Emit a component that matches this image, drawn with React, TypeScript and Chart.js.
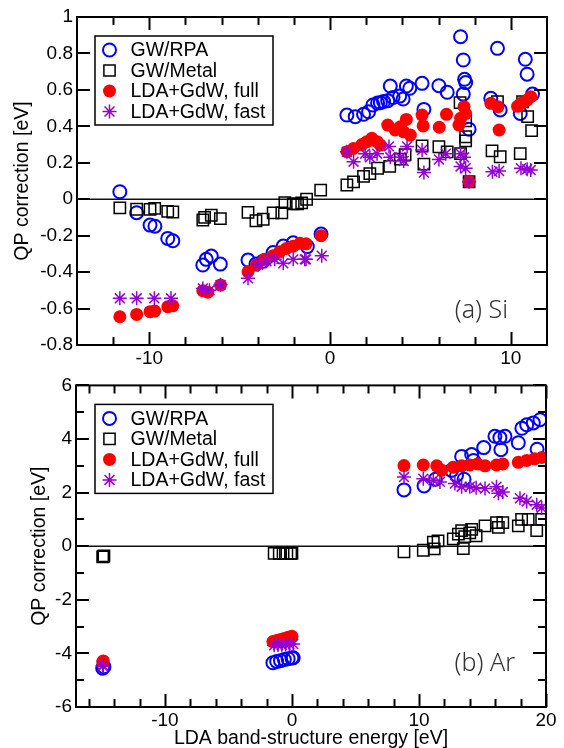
import React, { useEffect, useRef } from 'react';
import { Chart, registerables } from 'chart.js';

Chart.register(...registerables);

// ---------- text ----------
const SERIES = ['GW/RPA', 'GW/Metal', 'LDA+GdW, full', 'LDA+GdW, fast'];
const Y_TITLE = 'QP correction [eV]';
const X_TITLE = 'LDA band-structure energy [eV]';
const SI_LABEL = '(a) Si';
const AR_LABEL = '(b) Ar';

// ---------- (a) Si ----------
const SI_RPA_X = [-11.63, -10.7, -9.96, -9.69, -8.98, -8.7, -7.04, -6.85, -6.57, -6.07, -4.54, -4.1, -3.7, -3.15, -2.59, -2.04, -1.26, -0.5, 0.93, 1.39, 1.85, 2.13, 2.37, 2.63, 2.78, 2.96, 3.19, 3.33, 3.48, 3.85, 4.04, 4.22, 4.41, 5.09, 5.19, 6.02, 6.48, 7.22, 7.37, 7.37, 7.44, 7.5, 7.69, 8.89, 9.26, 9.41, 10.52, 10.8, 10.9, 11.2];
const SI_RPA_Y = [0.041, -0.074, -0.142, -0.148, -0.215, -0.228, -0.361, -0.33, -0.312, -0.356, -0.334, -0.356, -0.34, -0.293, -0.257, -0.239, -0.26, -0.191, 0.462, 0.453, 0.466, 0.48, 0.517, 0.528, 0.53, 0.536, 0.541, 0.621, 0.558, 0.566, 0.55, 0.621, 0.609, 0.636, 0.493, 0.623, 0.587, 0.892, 0.764, 0.577, 0.658, 0.64, 0.384, 0.554, 0.828, 0.49, 0.471, 0.768, 0.686, 0.577];

const SI_METAL_X = [-11.63, -10.7, -9.96, -9.7, -8.98, -8.7, -7.04, -6.94, -6.57, -6.07, -4.54, -4.1, -3.7, -3.15, -2.67, -2.5, -2.04, -1.8, -1.57, -1.3, -0.52, 0.93, 1.3, 1.85, 2.2, 2.63, 3.3, 3.89, 4.15, 5.09, 5.19, 6.02, 6.48, 7.19, 7.22, 7.5, 7.5, 7.5, 7.69, 8.96, 9.26, 9.41, 10.52, 10.65, 10.93, 11.15];
const SI_METAL_Y = [-0.047, -0.055, -0.056, -0.05, -0.067, -0.07, -0.114, -0.1, -0.088, -0.106, -0.072, -0.118, -0.11, -0.075, -0.075, -0.019, -0.026, -0.026, -0.02, 0.0, 0.05, 0.078, 0.095, 0.125, 0.14, 0.17, 0.18, 0.22, 0.245, 0.292, 0.193, 0.288, 0.26, 0.53, 0.25, 0.43, 0.343, 0.32, 0.096, 0.265, 0.535, 0.233, 0.25, 0.535, 0.453, 0.376];

const SI_FULL_X = [-11.63, -10.7, -9.96, -9.7, -8.98, -8.7, -7.04, -6.76, -6.06, -4.54, -4.07, -3.63, -3.15, -2.78, -2.41, -2.04, -1.67, -1.33, -0.5, 0.93, 1.3, 1.76, 2.04, 2.31, 2.6, 2.78, 3.19, 3.6, 3.89, 4.07, 4.22, 4.44, 5.09, 5.15, 6.04, 6.44, 7.13, 7.22, 7.41, 7.5, 7.69, 8.89, 9.29, 9.35, 10.37, 10.56, 10.9, 11.1];
const SI_FULL_Y = [-0.645, -0.632, -0.617, -0.614, -0.59, -0.585, -0.502, -0.51, -0.471, -0.398, -0.361, -0.33, -0.31, -0.288, -0.27, -0.258, -0.242, -0.245, -0.2, 0.261, 0.279, 0.3, 0.316, 0.334, 0.316, 0.297, 0.407, 0.38, 0.398, 0.37, 0.438, 0.352, 0.462, 0.402, 0.395, 0.466, 0.407, 0.444, 0.508, 0.47, 0.096, 0.526, 0.508, 0.38, 0.51, 0.526, 0.544, 0.563];

const SI_FAST_X = [-11.63, -10.7, -9.72, -8.8, -7.04, -6.67, -6.06, -4.54, -3.98, -3.52, -3.06, -2.59, -2.04, -1.4, -1.33, -0.46, 0.93, 1.3, 1.94, 2.2, 2.6, 3.26, 3.33, 3.89, 4.07, 4.26, 5.09, 5.19, 6.02, 6.4, 7.22, 7.41, 7.22, 7.5, 7.69, 8.98, 9.35, 10.56, 10.9, 11.1];
const SI_FAST_Y = [-0.544, -0.544, -0.544, -0.544, -0.49, -0.5, -0.47, -0.434, -0.36, -0.34, -0.33, -0.352, -0.33, -0.33, -0.33, -0.31, 0.26, 0.206, 0.25, 0.23, 0.25, 0.29, 0.23, 0.23, 0.21, 0.29, 0.27, 0.146, 0.218, 0.25, 0.25, 0.23, 0.18, 0.17, 0.096, 0.151, 0.155, 0.17, 0.165, 0.16];

// ---------- (b) Ar ----------
const AR_RPA_X = [-14.9, -14.8, -1.5, -1.2, -0.9, -0.6, -0.3, 0.0, 0.1, 8.82, 10.4, 11.3, 12.57, 12.96, 13.36, 13.55, 14.15, 14.3, 15.1, 15.98, 16.37, 16.45, 16.77, 17.82, 18.1, 18.48, 19.0, 19.3, 19.53];
const AR_RPA_Y = [-4.55, -4.5, -4.35, -4.3, -4.27, -4.23, -4.2, -4.17, -4.16, 2.1, 2.25, 2.5, 2.83, 2.65, 3.35, 2.5, 3.42, 3.2, 3.68, 4.1, 4.05, 3.6, 4.1, 3.86, 4.4, 4.53, 4.6, 3.62, 4.72];

const AR_METAL_X = [-14.9, -14.85, -14.8, -1.4, -1.0, -0.7, -0.4, -0.1, 0.0, 8.82, 10.34, 11.13, 11.2, 11.5, 12.7, 13.1, 13.36, 13.49, 13.6, 14.0, 14.15, 14.5, 15.2, 16.1, 16.25, 16.6, 17.82, 18.08, 18.6, 19.27, 19.66];
const AR_METAL_Y = [-0.4, -0.38, -0.36, -0.27, -0.27, -0.27, -0.27, -0.27, -0.27, -0.21, -0.15, 0.15, -0.1, 0.2, 0.27, 0.45, 0.58, -0.09, 0.36, 0.5, 0.63, 0.39, 0.76, 0.88, 0.7, 0.88, 0.76, 1.0, 1.0, 0.58, 1.0];

const AR_FULL_X = [-14.9, -14.85, -1.5, -1.2, -0.9, -0.6, -0.3, 0.0, 8.82, 10.34, 11.4, 11.79, 12.7, 13.36, 14.0, 14.6, 15.2, 16.1, 16.6, 17.82, 18.48, 19.1, 19.66];
const AR_FULL_Y = [-4.32, -4.28, -3.56, -3.52, -3.48, -3.44, -3.4, -3.36, 3.01, 3.03, 3.0, 2.83, 2.95, 3.0, 3.03, 3.07, 3.0, 3.03, 3.07, 3.13, 3.2, 3.26, 3.31];

const AR_FAST_X = [-14.9, -14.85, -1.4, -1.1, -0.8, -0.5, -0.2, 0.1, 8.82, 10.34, 11.13, 11.65, 12.83, 13.36, 14.0, 14.5, 15.2, 16.1, 16.25, 16.6, 17.95, 18.48, 19.27, 19.66];
const AR_FAST_Y = [-4.47, -4.45, -3.7, -3.69, -3.68, -3.67, -3.66, -3.65, 2.58, 2.52, 2.46, 2.4, 2.34, 2.22, 2.22, 2.18, 2.15, 2.22, 1.98, 2.02, 1.79, 1.67, 1.55, 1.43];

// ---------- ticks ----------
const SI_X_RANGE = [-14, 12];
const SI_Y_RANGE = [-0.8, 1];
const SI_X_MAJOR = [-10, 0, 10];
const SI_X_MINOR = [-12, -8, -6, -4, -2, 2, 4, 6, 8];
const SI_Y_MAJOR = [-0.8, -0.6, -0.4, -0.2, 0, 0.2, 0.4, 0.6, 0.8, 1];
const SI_Y_MINOR: number[] = [];

const AR_X_RANGE = [-17, 20];
const AR_Y_RANGE = [-6, 6];
const AR_X_MAJOR = [-10, 0, 10, 20];
const AR_X_MINOR = [-16, -14, -12, -8, -6, -4, -2, 2, 4, 6, 8, 12, 14, 16, 18];
const AR_Y_MAJOR = [-6, -4, -2, 0, 2, 4, 6];
const AR_Y_MINOR = [-5, -3, -1, 1, 3, 5];

// ---------- styles ----------
const BLUE = '#0000ff';
const RED = '#ff0000';
const PURPLE = '#9400d3';
const BLACK = '#000000';
const FONT = '"Liberation Sans", Arial, Helvetica, sans-serif';

const zip = (xs: number[], ys: number[]) => xs.map((x, i) => ({ x, y: ys[i] }));

function drawSymbol(ctx: CanvasRenderingContext2D, kind: number, x: number, y: number) {
  ctx.save();
  ctx.beginPath();
  if (kind === 0) {
    ctx.arc(x, y, 6.5, 0, Math.PI * 2);
    ctx.strokeStyle = BLUE;
    ctx.lineWidth = 2;
    ctx.stroke();
  } else if (kind === 1) {
    const s = 5.6;
    ctx.rect(x - s, y - s, 2 * s, 2 * s);
    ctx.strokeStyle = BLACK;
    ctx.lineWidth = 1.5;
    ctx.stroke();
  } else if (kind === 2) {
    ctx.arc(x, y, 6.5, 0, Math.PI * 2);
    ctx.fillStyle = RED;
    ctx.fill();
  } else {
    const r = 7;
    const d = r * Math.SQRT1_2;
    ctx.moveTo(x - r, y); ctx.lineTo(x + r, y);
    ctx.moveTo(x, y - r); ctx.lineTo(x, y + r);
    ctx.moveTo(x - d, y - d); ctx.lineTo(x + d, y + d);
    ctx.moveTo(x - d, y + d); ctx.lineTo(x + d, y - d);
    ctx.strokeStyle = PURPLE;
    ctx.lineWidth = 1.5;
    ctx.stroke();
  }
  ctx.restore();
}

const panelPlugin = {
  id: 'panelDecor',
  beforeDatasetsDraw(chart: any) {
    const { ctx, chartArea: a, scales } = chart;
    const y0 = scales.y.getPixelForValue(0);
    ctx.save();
    ctx.strokeStyle = '#111';
    ctx.lineWidth = 1.5;
    ctx.beginPath();
    ctx.moveTo(a.left, y0);
    ctx.lineTo(a.right, y0);
    ctx.stroke();
    ctx.restore();
  },
  afterDatasetsDraw(chart: any, _args: any, o: any) {
    const { ctx, chartArea: a, scales } = chart;
    const sx = scales.x;
    const sy = scales.y;
    ctx.save();
    ctx.strokeStyle = '#000';
    ctx.lineWidth = 2;
    const MAJ = 13;
    const MIN = 8;
    const xt = (vals: number[], len: number) => {
      vals.forEach((v) => {
        const p = Math.round(sx.getPixelForValue(v)) + 0.5;
        ctx.beginPath();
        ctx.moveTo(p, a.bottom); ctx.lineTo(p, a.bottom - len);
        ctx.moveTo(p, a.top); ctx.lineTo(p, a.top + len);
        ctx.stroke();
      });
    };
    const yt = (vals: number[], len: number) => {
      vals.forEach((v) => {
        const p = Math.round(sy.getPixelForValue(v));
        ctx.beginPath();
        ctx.moveTo(a.left, p); ctx.lineTo(a.left + len, p);
        ctx.moveTo(a.right, p); ctx.lineTo(a.right - len, p);
        ctx.stroke();
      });
    };
    xt(o.xMajor, MAJ);
    xt(o.xMinor, MIN);
    yt(o.yMajor, MAJ);
    yt(o.yMinor, MIN);
    ctx.strokeRect(a.left, a.top, a.right - a.left, a.bottom - a.top);

    // legend box
    const lx = a.left + o.legendDx;
    const ly = a.top + o.legendDy;
    const lw = 178;
    const lh = 89;
    ctx.fillStyle = '#fff';
    ctx.fillRect(lx, ly, lw, lh);
    ctx.lineWidth = 1.5;
    ctx.strokeRect(lx, ly, lw, lh);
    ctx.font = `19.5px ${FONT}`;
    ctx.textBaseline = 'middle';
    ctx.textAlign = 'left';
    SERIES.forEach((label, i) => {
      const ry = ly + 14 + i * 20.5;
      drawSymbol(ctx, i, lx + 14.5, ry);
      ctx.fillStyle = '#000';
      ctx.fillText(label, lx + 35.5, ry + 1);
    });

    // panel label
    ctx.font = `300 25px "Noto Sans", "DejaVu Sans", sans-serif`;
    ctx.fillStyle = '#333';
    ctx.textAlign = 'right';
    ctx.textBaseline = 'alphabetic';
    ctx.fillText(o.label, a.right - o.labelDr, a.bottom - o.labelDb);
    ctx.restore();
  },
};

type Pt = { x: number; y: number };
type PanelSpec = {
  rpa: Pt[]; metal: Pt[]; full: Pt[]; fast: Pt[];
  xRange: number[]; yRange: number[];
  xMajor: number[]; xMinor: number[]; yMajor: number[]; yMinor: number[];
  padTop: number; padRight: number; xHeight: number; yWidth: number; yTitlePad: number;
  xTitle: boolean; label: string; labelDr: number; labelDb: number; legendDx: number; legendDy: number;
};

function buildConfig(p: PanelSpec): any {
  const tickFont = { family: FONT, size: 19 };
  const titleFont = { family: FONT, size: 19.5, lineHeight: 1 };
  return {
    type: 'scatter',
    data: {
      datasets: [
        { label: SERIES[0], data: p.rpa, pointStyle: 'circle', pointRadius: 6.5, pointBorderWidth: 2, pointBorderColor: BLUE, pointBackgroundColor: 'rgba(0,0,0,0)', order: 3 },
        { label: SERIES[1], data: p.metal, pointStyle: 'rect', pointRadius: 8, pointBorderWidth: 1.5, pointBorderColor: BLACK, pointBackgroundColor: 'rgba(0,0,0,0)', order: 2 },
        { label: SERIES[2], data: p.full, pointStyle: 'circle', pointRadius: 6.5, pointBorderWidth: 0, pointBorderColor: RED, pointBackgroundColor: RED, order: 1 },
        { label: SERIES[3], data: p.fast, pointStyle: 'star', pointRadius: 7, pointBorderWidth: 1.5, pointBorderColor: PURPLE, pointBackgroundColor: PURPLE, order: 0 },
      ],
    },
    options: {
      responsive: false,
      animation: false,
      events: [],
      layout: { padding: { top: p.padTop, right: p.padRight, bottom: 0, left: 0 } },
      plugins: {
        legend: { display: false },
        tooltip: { enabled: false },
        panelDecor: {
          xMajor: p.xMajor, xMinor: p.xMinor, yMajor: p.yMajor, yMinor: p.yMinor,
          label: p.label, labelDr: p.labelDr, labelDb: p.labelDb,
          legendDx: p.legendDx, legendDy: p.legendDy,
        },
      },
      scales: {
        x: {
          type: 'linear',
          min: p.xRange[0],
          max: p.xRange[1],
          grid: { display: false, drawTicks: false },
          border: { display: false },
          afterBuildTicks: (s: any) => { s.ticks = p.xMajor.map((v) => ({ value: v })); },
          afterFit: (s: any) => { s.height = p.xHeight; },
          ticks: { autoSkip: false, maxRotation: 0, minRotation: 0, padding: 2, color: '#000', font: tickFont, callback: (v: any) => String(v) },
          title: p.xTitle
            ? { display: true, text: X_TITLE, color: '#000', font: titleFont, padding: { top: 0, bottom: 0 } }
            : { display: false },
        },
        y: {
          type: 'linear',
          min: p.yRange[0],
          max: p.yRange[1],
          grid: { display: false, drawTicks: false },
          border: { display: false },
          afterBuildTicks: (s: any) => { s.ticks = p.yMajor.map((v) => ({ value: v })); },
          afterFit: (s: any) => { s.width = p.yWidth; },
          ticks: { autoSkip: false, padding: 4, color: '#000', font: tickFont, callback: (v: any) => String(Math.round(Number(v) * 10) / 10) },
          title: { display: true, text: Y_TITLE, color: '#000', font: titleFont, padding: { top: p.yTitlePad, bottom: 0 } },
        },
      },
    },
    plugins: [panelPlugin],
  };
}

function Panel({ spec, width, height }: { spec: PanelSpec; width: number; height: number }) {
  const ref = useRef<HTMLCanvasElement>(null);
  useEffect(() => {
    if (!ref.current) return;
    const chart = new Chart(ref.current, buildConfig(spec));
    return () => chart.destroy();
  }, []);
  return <canvas ref={ref} width={width} height={height} style={{ display: 'block', width, height }} />;
}

const SI_SPEC: PanelSpec = {
  rpa: zip(SI_RPA_X, SI_RPA_Y),
  metal: zip(SI_METAL_X, SI_METAL_Y),
  full: zip(SI_FULL_X, SI_FULL_Y),
  fast: zip(SI_FAST_X, SI_FAST_Y),
  xRange: SI_X_RANGE, yRange: SI_Y_RANGE,
  xMajor: SI_X_MAJOR, xMinor: SI_X_MINOR, yMajor: SI_Y_MAJOR, yMinor: SI_Y_MINOR,
  padTop: 17, padRight: 17, xHeight: 25, yWidth: 77, yTitlePad: 12.5, xTitle: false,
  label: SI_LABEL, labelDr: 39, labelDb: 27, legendDx: 18, legendDy: 19,
};

const AR_SPEC: PanelSpec = {
  rpa: zip(AR_RPA_X, AR_RPA_Y),
  metal: zip(AR_METAL_X, AR_METAL_Y),
  full: zip(AR_FULL_X, AR_FULL_Y),
  fast: zip(AR_FAST_X, AR_FAST_Y),
  xRange: AR_X_RANGE, yRange: AR_Y_RANGE,
  xMajor: AR_X_MAJOR, xMinor: AR_X_MINOR, yMajor: AR_Y_MAJOR, yMinor: AR_Y_MINOR,
  padTop: 8, padRight: 18, xHeight: 41, yWidth: 76, yTitlePad: 29.5, xTitle: true,
  label: AR_LABEL, labelDr: 31, labelDb: 36, legendDx: 19, legendDy: 19,
};

export default function App() {
  return (
    <div style={{ position: 'absolute', left: 0, top: 0, width: 564, height: 748, background: '#fff' }}>
      <Panel spec={SI_SPEC} width={564} height={370} />
      <Panel spec={AR_SPEC} width={564} height={378} />
    </div>
  );
}
